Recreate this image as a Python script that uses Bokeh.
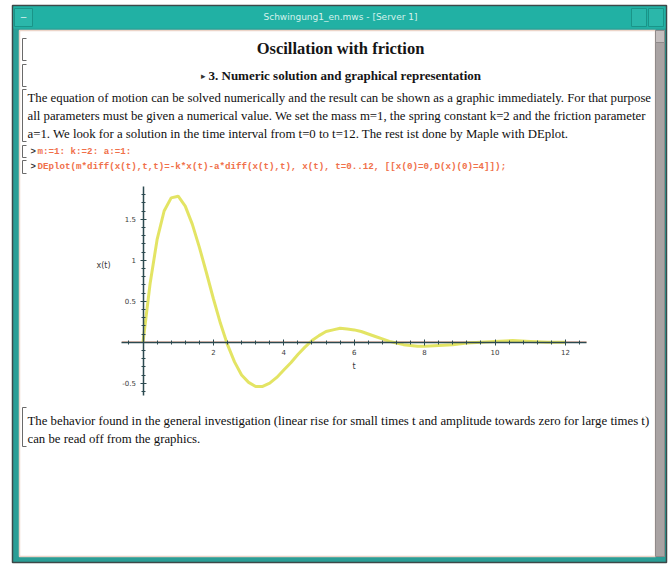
from bokeh.plotting import figure
from bokeh.models import Range1d, FixedTicker, PrintfTickFormatter
from bokeh.core.properties import value
from bokeh.embed import file_html
from bokeh.resources import INLINE

# ---------------- data ----------------
t_values = [0.0, 0.2, 0.4, 0.6, 0.8, 1.0, 1.2, 1.4, 1.6, 1.8, 2.0, 2.2, 2.4, 2.6,
            2.8, 3.0, 3.2, 3.4, 3.6, 3.8, 4.0, 4.2, 4.4, 4.6, 4.8, 5.0, 5.2, 5.4,
            5.6, 5.8, 6.0, 6.2, 6.4, 6.6, 6.8, 7.0, 7.2, 7.4, 7.6, 7.8, 8.0, 8.4,
            8.8, 9.2, 9.6, 10.0, 10.5, 11.0, 11.5, 12.0]
x_values = [0.00, 0.71, 1.25, 1.60, 1.76, 1.78, 1.66, 1.44, 1.16, 0.85, 0.53, 0.23,
            -0.03, -0.24, -0.40, -0.49, -0.54, -0.54, -0.50, -0.43, -0.34, -0.25,
            -0.15, -0.06, 0.02, 0.08, 0.13, 0.15, 0.17, 0.16, 0.15, 0.13, 0.10, 0.07,
            0.04, 0.01, -0.01, -0.03, -0.04, -0.05, -0.05, -0.04, -0.03, -0.01, 0.00,
            0.01, 0.02, 0.01, 0.00, 0.00]
x_ticks = [2, 4, 6, 8, 10, 12]
y_ticks = [-0.5, 0.5, 1, 1.5]
x_axis_label = "t"
y_axis_label = "x(t)"

window_title = "Schwingung1_en.mws - [Server 1]"
heading = "Oscillation with friction"
subheading = "3. Numeric solution and graphical representation"
paragraph = [
    "The equation of motion can be solved numerically and the result can be shown as a graphic immediately. For that purpose",
    "all parameters must be given a numerical value. We set the mass m=1, the spring constant k=2 and the friction parameter",
    "a=1. We look for a solution in the time interval from t=0 to t=12. The rest ist done by Maple with DEplot.",
]
maple_input = [
    "m:=1: k:=2: a:=1:",
    "DEplot(m*diff(x(t),t,t)=-k*x(t)-a*diff(x(t),t), x(t), t=0..12, [[x(0)=0,D(x)(0)=4]]);",
]
closing = [
    "The behavior found in the general investigation (linear rise for small times t and amplitude towards zero for large times t)",
    "can be read off from the graphics.",
]

# ---------------- geometry (page pixels) ----------------
W, H = 672, 564
X0, PX_T = 142.5, 35.2           # where t=0 sits, pixels per unit t
Y0, PX_X = 341.7, 82.0           # where x=0 sits, pixels per unit x

p = figure(width=W, height=H, output_backend="svg", toolbar_location=None,
           x_range=Range1d(-X0 / PX_T, (W - X0) / PX_T),
           y_range=Range1d((Y0 - H) / PX_X, Y0 / PX_X),
           min_border=0)
p.extra_x_ranges = {"px": Range1d(0, W)}
p.extra_y_ranges = {"px": Range1d(H, 0)}
p.grid.visible = False
p.outline_line_color = None
p.background_fill_color = "white"
p.border_fill_color = "white"

PX = dict(x_range_name="px", y_range_name="px")

# ---------------- window chrome ----------------
p.quad(left=[12], right=[666], top=[5], bottom=[562], fill_color="#2a9e96",
       line_color="#3c4848", line_width=1.5, **PX)
p.quad(left=[13], right=[665], top=[6], bottom=[28], fill_color="#21b1a4",
       line_color=None, **PX)
p.quad(left=[14, 631, 648], right=[32, 646, 663], top=[8, 8, 8], bottom=[26, 26, 26],
       fill_color="#2bb7aa", line_color="#1a9488", line_width=1, **PX)
p.text(x=[23], y=[16], text=["\u2013"], text_color="#d8f2ee", text_font_size="10px",
       text_align="center", text_baseline="middle", **PX)
p.text(x=[340], y=[16], text=[window_title], text_color="#d6f1ec",
       text_font=value("DejaVu Sans"), text_font_size="9px",
       text_align="center", text_baseline="middle", **PX)
p.quad(left=[19], right=[655], top=[30], bottom=[556], fill_color="white",
       line_color="#ecd4c8", line_width=1.5, **PX)
p.quad(left=[655], right=[664], top=[30], bottom=[556], fill_color="#a9a3a3",
       line_color="#8f8a8a", **PX)
p.quad(left=[655], right=[664], top=[30], bottom=[42], fill_color="#c4bebe",
       line_color="#8f8a8a", **PX)

# Maple group brackets
bx = 22
brackets = [(38, 60), (64, 86), (89, 141), (145, 157), (160, 173), (407, 446)]
xs, ys = [], []
for top, bot in brackets:
    xs.append([bx + 4, bx, bx, bx + 4])
    ys.append([top, top, bot, bot])
p.multi_line(xs=xs, ys=ys, line_color="#6a6a6a", line_width=1, **PX)

# ---------------- worksheet text ----------------
SERIF = value("Liberation Serif")
p.text(x=[340], y=[48], text=[heading], text_font=SERIF, text_font_size="16.5px",
       text_font_style="bold", text_color="#151515", text_align="center",
       text_baseline="middle", **PX)
p.text(x=[203], y=[75], text=["\u25b8"], text_font_size="9px", text_color="#333333",
       text_align="center", text_baseline="middle", **PX)
p.text(x=[208], y=[75], text=[subheading], text_font=SERIF, text_font_size="13px",
       text_font_style="bold", text_color="#151515", text_align="left",
       text_baseline="middle", **PX)
p.text(x=[27] * len(paragraph), y=[97, 115, 133], text=paragraph, text_font=SERIF,
       text_font_size="12.8px", text_color="#101010", text_align="left",
       text_baseline="middle", **PX)
p.text(x=[30, 30], y=[151, 166], text=[">", ">"], text_font=value("Liberation Mono"),
       text_font_size="9px", text_font_style="bold", text_color="#333333",
       text_align="left", text_baseline="middle", **PX)
p.text(x=[37, 37], y=[151, 166], text=maple_input, text_font=value("Liberation Mono"),
       text_font_size="9.2px", text_font_style="bold", text_color="#f0704a",
       text_align="left", text_baseline="middle", **PX)
p.text(x=[27, 27], y=[420, 438], text=closing, text_font=SERIF,
       text_font_size="12.8px", text_color="#101010", text_align="left",
       text_baseline="middle", **PX)

# ---------------- the plot ----------------
x_bounds = (-0.6, 12.6)
y_bounds = (-0.65, 1.9)
p.line(x=list(x_bounds), y=[0, 0], line_color="#f39a7a", line_width=1.2)
p.line(x=t_values, y=x_values, line_color="#e2e35c", line_width=3, line_alpha=0.95)

for ax in (p.xaxis, p.yaxis):
    ax.fixed_location = 0
    ax.axis_line_color = "#2c4a50"
    ax.axis_line_width = 1.5
    ax.major_tick_line_color = "#2c4a50"
    ax.minor_tick_line_color = "#2c4a50"
    ax.major_tick_in = 3
    ax.major_tick_out = 3
    ax.minor_tick_in = 2
    ax.minor_tick_out = 2
    ax.major_label_text_font = "DejaVu Sans"
    ax.major_label_text_font_size = "7px"
    ax.major_label_text_color = "#3a3a3a"
    ax.major_label_standoff = 4
    ax.axis_label_text_font = "DejaVu Sans"
    ax.axis_label_text_font_size = "8px"
    ax.axis_label_text_font_style = "normal"
    ax.axis_label_text_color = "#3a3a3a"
    ax.formatter = PrintfTickFormatter(format="%g")

p.xaxis.bounds = x_bounds
p.yaxis.bounds = y_bounds
p.xaxis.ticker = FixedTicker(ticks=x_ticks,
                             minor_ticks=[round(0.4 * i, 2) for i in range(-1, 32)])
p.yaxis.ticker = FixedTicker(ticks=y_ticks,
                             minor_ticks=[round(0.1 * i, 2) for i in range(-6, 19)])
p.xaxis.axis_label = x_axis_label
p.xaxis.axis_label_standoff = 3
# y-axis label sits beside the upper half of the axis, as in Maple's output
p.text(x=[103], y=[265], text=[y_axis_label], text_font=value("DejaVu Sans"),
       text_font_size="8px", text_color="#3a3a3a", text_align="center",
       text_baseline="middle", **PX)

open("out.html", "w").write(file_html(p, INLINE))
